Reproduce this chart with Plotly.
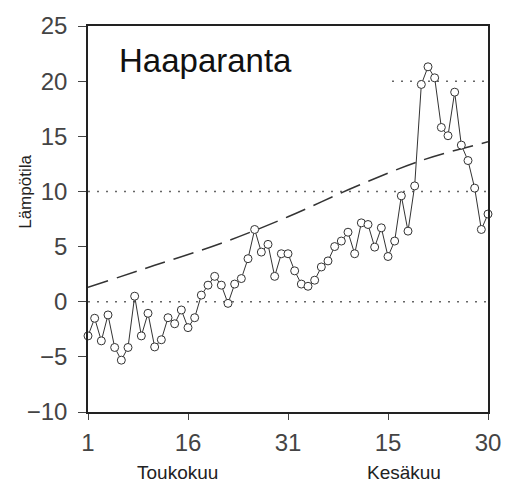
import plotly.graph_objects as go

days = list(range(1, 62))
temps = [-3.1, -1.5, -3.55, -1.2, -4.15, -5.3, -4.15, 0.5, -3.1, -1.05,
         -4.1, -3.45, -1.45, -2.0, -0.75, -2.35, -1.45, 0.6, 1.5, 2.3,
         1.5, -0.15, 1.6, 2.1, 3.9, 6.55, 4.5, 5.2, 2.3, 4.35,
         4.35, 2.8, 1.6, 1.4, 1.95, 3.15, 3.7, 5.0, 5.5, 6.3,
         4.35, 7.15, 7.0, 4.95, 6.7, 4.1, 5.5, 9.6, 6.4, 10.5,
         19.7, 21.3, 20.3, 15.8, 15.05, 19.0, 14.2, 12.8, 10.3, 6.55, 7.95]

norm_days = [1, 11, 21, 31, 41, 51, 61]
norm_vals = [1.3, 3.3, 5.3, 7.7, 10.4, 12.8, 14.5]

tick_vals = [1, 16, 31, 46, 61]
tick_text = ["1", "16", "31", "15", "30"]
month_labels = ["Toukokuu", "Kesäkuu"]
month_pos = [14.4, 48.4]
title_text = "Haaparanta"
y_title = "Lämpötila"

fig = go.Figure()

# dotted reference lines
for y0, xs in [(0, 1), (10, 1), (20, 46.6)]:
    fig.add_shape(type="line", xref="x", yref="y", x0=xs, x1=61, y0=y0, y1=y0,
                  line=dict(color="#666", width=1.5, dash="2px,7px"), layer="below")

fig.add_trace(go.Scatter(x=norm_days, y=norm_vals, mode="lines",
                         line=dict(color="#333", width=1.5, dash="21px,9px", shape="spline"),
                         hoverinfo="skip", showlegend=False))

fig.add_trace(go.Scatter(x=days, y=temps, mode="lines+markers",
                         line=dict(color="#333", width=1),
                         marker=dict(size=8, color="white", line=dict(color="#333", width=1)),
                         cliponaxis=False, showlegend=False))

fig.add_annotation(x=5.4, y=21.9, xref="x", yref="y", text=title_text, showarrow=False,
                   xanchor="left", yanchor="middle",
                   font=dict(family="Liberation Sans, Arial", size=33, color="#111"))

for lab, pos in zip(month_labels, month_pos):
    fig.add_annotation(x=pos, y=-0.158, xref="x", yref="paper", text=lab, showarrow=False,
                       xanchor="center", yanchor="middle",
                       font=dict(family="Liberation Sans, Arial", size=19, color="#222"))

fig.add_annotation(x=-0.157, y=0.571, xref="paper", yref="paper", text=y_title,
                   showarrow=False, textangle=-90, xanchor="center", yanchor="middle",
                   font=dict(family="Liberation Sans, Arial", size=17, color="#222"))

fig.update_xaxes(range=[1, 61], tickmode="array", tickvals=tick_vals, ticktext=tick_text,
                 showgrid=False, zeroline=False, showline=True, linecolor="#222", linewidth=1.5,
                 mirror=True, ticks="outside", ticklen=6, tickcolor="#444", tickwidth=1,
                 tickfont=dict(family="Liberation Sans, Arial", size=24, color="#444"),
                 ticklabelstandoff=2)
fig.update_yaxes(range=[-10, 25], dtick=5, tick0=0,
                 showgrid=False, zeroline=False, showline=True, linecolor="#222", linewidth=1.5,
                 mirror=True, ticks="outside", ticklen=8, tickcolor="#444", tickwidth=1,
                 tickfont=dict(family="Liberation Sans, Arial", size=24, color="#444"),
                 ticklabelstandoff=6)

fig.update_layout(width=513, height=482, margin=dict(l=88, r=24, t=23, b=70),
                  plot_bgcolor="white", paper_bgcolor="white")

fig.write_html("out.html")
